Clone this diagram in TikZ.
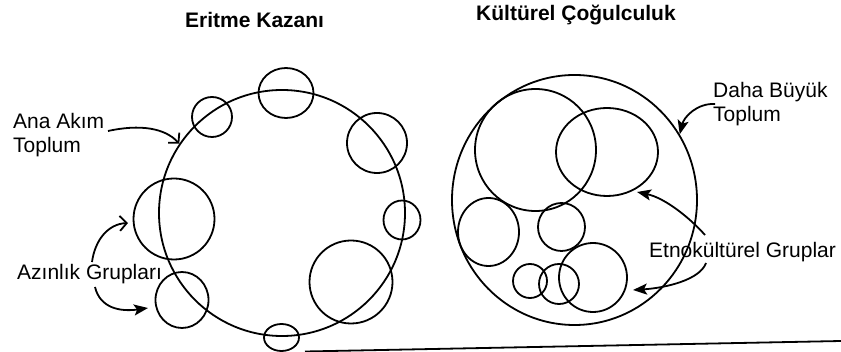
\documentclass[tikz,border=0pt]{standalone}
\usepackage{fontspec}
\setmainfont{Liberation Sans}
\usetikzlibrary{arrows.meta,shapes.geometric}
\begin{document}
\begin{tikzpicture}[x=1pt,y=-1pt,
  circ/.style={circle,draw,line width=1.8pt,inner sep=0pt,minimum size=#1},
  ell/.style 2 args={ellipse,draw,line width=1.8pt,inner sep=0pt,minimum width=#1,minimum height=#2},
  lbl/.style={font=\fontsize{21}{24}\selectfont,inner sep=0pt},
  ttl/.style={font=\fontsize{21}{24}\selectfont\bfseries,inner sep=0pt,anchor=base west},
  openarr/.style={line width=1.8pt,-{Straight Barb[length=7pt,width=15pt]}},
  fillarr/.style={line width=1.8pt,-{Stealth[length=14pt,width=11pt,inset=3pt]}}]
\useasboundingbox (0,0) rectangle (841,352);
% ---------- left: Eritme Kazani ----------
\node[ttl] (t1) at (185,28) {Eritme Kazanı};
\node[circ=246pt] (L) at (282,213) {};
\node[circ=40pt] (m1) at (212,117) {};
\node[ell={55pt}{50pt}] (m2) at (286,93) {};
\node[circ=60pt] (m3) at (377,143) {};
\node[ell={37pt}{39pt}] (m4) at (402,220) {};
\node[circ=83pt] (m5) at (351,282) {};
\node[ell={35pt}{27pt}] (m6) at (281.5,337.5) {};
\node[ell={53pt}{56pt}] (m7) at (182,300) {};
\node[circ=81pt] (m8) at (174,219) {};
\node[lbl,align=left,anchor=north west] (ana) at (13,113) {Ana Akım\\Toplum};
\node[lbl,anchor=base west] (az) at (17,280) {Azınlık Grupları};
\coordinate (a1s) at (108,131);
\coordinate (a2s) at (92,262);
\coordinate (a2t) at (128,223);
\coordinate (a3s) at (95,287);
\coordinate (a3t) at (148,308);
\draw[openarr] (a1s) .. controls (140,124) and (165,128) .. (L.146);
\draw[openarr] (a2s) .. controls (95,240) and (108,224) .. (a2t);
\draw[fillarr] (a3s) .. controls (100,308) and (120,312) .. (a3t);
% ---------- right: Kulturel Cogulculuk ----------
\node[ttl] (t2) at (476,21) {Kültürel Çoğulculuk};
\node[ell={245pt}{250pt}] (R) at (574.5,200) {};
\node[ell={121pt}{122pt}] (A) at (535.5,150) {};
\node[ell={102pt}{88pt}] (B) at (607,152) {};
\node[ell={61pt}{68pt}] (C) at (488.5,232) {};
\node[ell={47pt}{48pt}] (D) at (561.5,227) {};
\node[ell={68pt}{69pt}] (E) at (593,277.5) {};
\node[circ=34pt] (F) at (530,281) {};
\node[circ=40pt] (G) at (559,284) {};
\node[lbl,align=left,anchor=north west] (daha) at (713,82) {Daha Büyük\\Toplum};
\node[lbl,anchor=base west] (etno) at (649,258) {Etnokültürel Gruplar};
\coordinate (d1s) at (715,104);
\coordinate (e1s) at (705,235);
\coordinate (e1t) at (637,192);
\coordinate (e2s) at (706,263);
\coordinate (e2t) at (633,290);
\draw[fillarr] (d1s) .. controls (697,103) and (684,117) .. (R.32);
\draw[fillarr] (e1s) .. controls (690,218) and (665,198) .. (e1t);
\draw[fillarr] (e2s) .. controls (700,280) and (665,288) .. (e2t);
% ---------- bottom rule ----------
\coordinate (bl1) at (305,351.5);
\coordinate (bl2) at (841,341);
\draw[line width=1.8pt] (bl1) -- (bl2);
\end{tikzpicture}
\end{document}
